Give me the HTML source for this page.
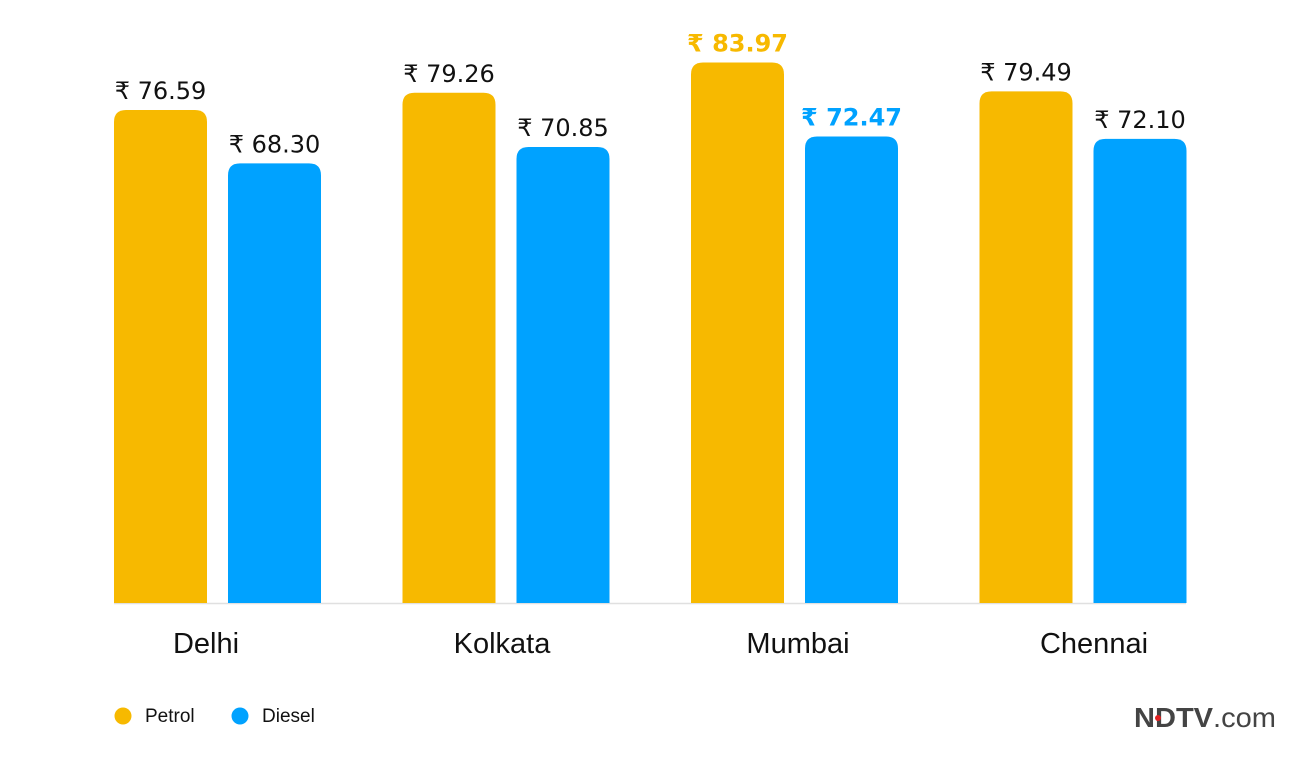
<!DOCTYPE html>
<html><head><meta charset="utf-8"><style>
body{margin:0;background:#fff;}
svg{display:block;}
</style></head><body>
<svg id="chart" width="1300" height="760" xmlns="http://www.w3.org/2000/svg">
<line x1="114" y1="603.5" x2="1186" y2="603.5" stroke="#e0e0e0" stroke-width="1.5"/>
<g id="bars"></g>
<g font-family="Liberation Sans, sans-serif" font-size="19" fill="#111">
<circle cx="123" cy="716" r="8.5" fill="#F7B900"/>
<text x="145" y="722">Petrol</text>
<circle cx="240" cy="716" r="8.5" fill="#00A2FF"/>
<text x="262" y="722">Diesel</text>
</g>
<g>
<text x="1134" y="727" font-family="Liberation Sans, sans-serif" font-size="28" font-weight="bold" fill="#444" textLength="142" lengthAdjust="spacingAndGlyphs">NDTV<tspan font-weight="normal">.com</tspan></text>
<circle cx="1158" cy="718" r="3" fill="#e02020"/>
</g>
</svg>
<script>
const categories=["Delhi","Kolkata","Mumbai","Chennai"];
const petrol=[76.59,79.26,83.97,79.49];
const diesel=[68.30,70.85,72.47,72.10];
const highlight=[false,false,true,false];
const NS="http://www.w3.org/2000/svg";
const g=document.getElementById('bars');
const base=603, scale=6.437, bw=93, x0=114, groupStep=288.5, gap=114;
function y(v){return base-v*scale;}
function mk(t,a){const e=document.createElementNS(NS,t);for(const k in a)e.setAttribute(k,a[k]);return e;}
function bar(x,v,color,name,hl){
  const top=y(v),r=12;
  const p=mk('path',{d:`M${x},${base}V${top+r}Q${x},${top} ${x+r},${top}H${x+bw-r}Q${x+bw},${top} ${x+bw},${top+r}V${base}Z`,fill:color});
  
  
  g.appendChild(p);
  const t=mk('text',{x:x+bw/2,y:top-11,'text-anchor':'middle','font-family':'DejaVu Sans, sans-serif','font-size':'24',fill:hl?color:'#111','font-weight':hl?'bold':'normal'});
  t.textContent='₹ '+v.toFixed(2);
  
  
  g.appendChild(t);
}
categories.forEach((c,i)=>{
  const gx=x0+i*groupStep;
  bar(gx,petrol[i],'#F7B900','bar-petrol-'+c.toLowerCase(),highlight[i]);
  bar(gx+gap,diesel[i],'#00A2FF','bar-diesel-'+c.toLowerCase(),highlight[i]);
  const t=mk('text',{x:206+i*296,y:653,'text-anchor':'middle','font-family':'Liberation Sans, sans-serif','font-size':'29',fill:'#111'});
  t.textContent=c;
  
  
  g.appendChild(t);
});
</script>
</body></html>
